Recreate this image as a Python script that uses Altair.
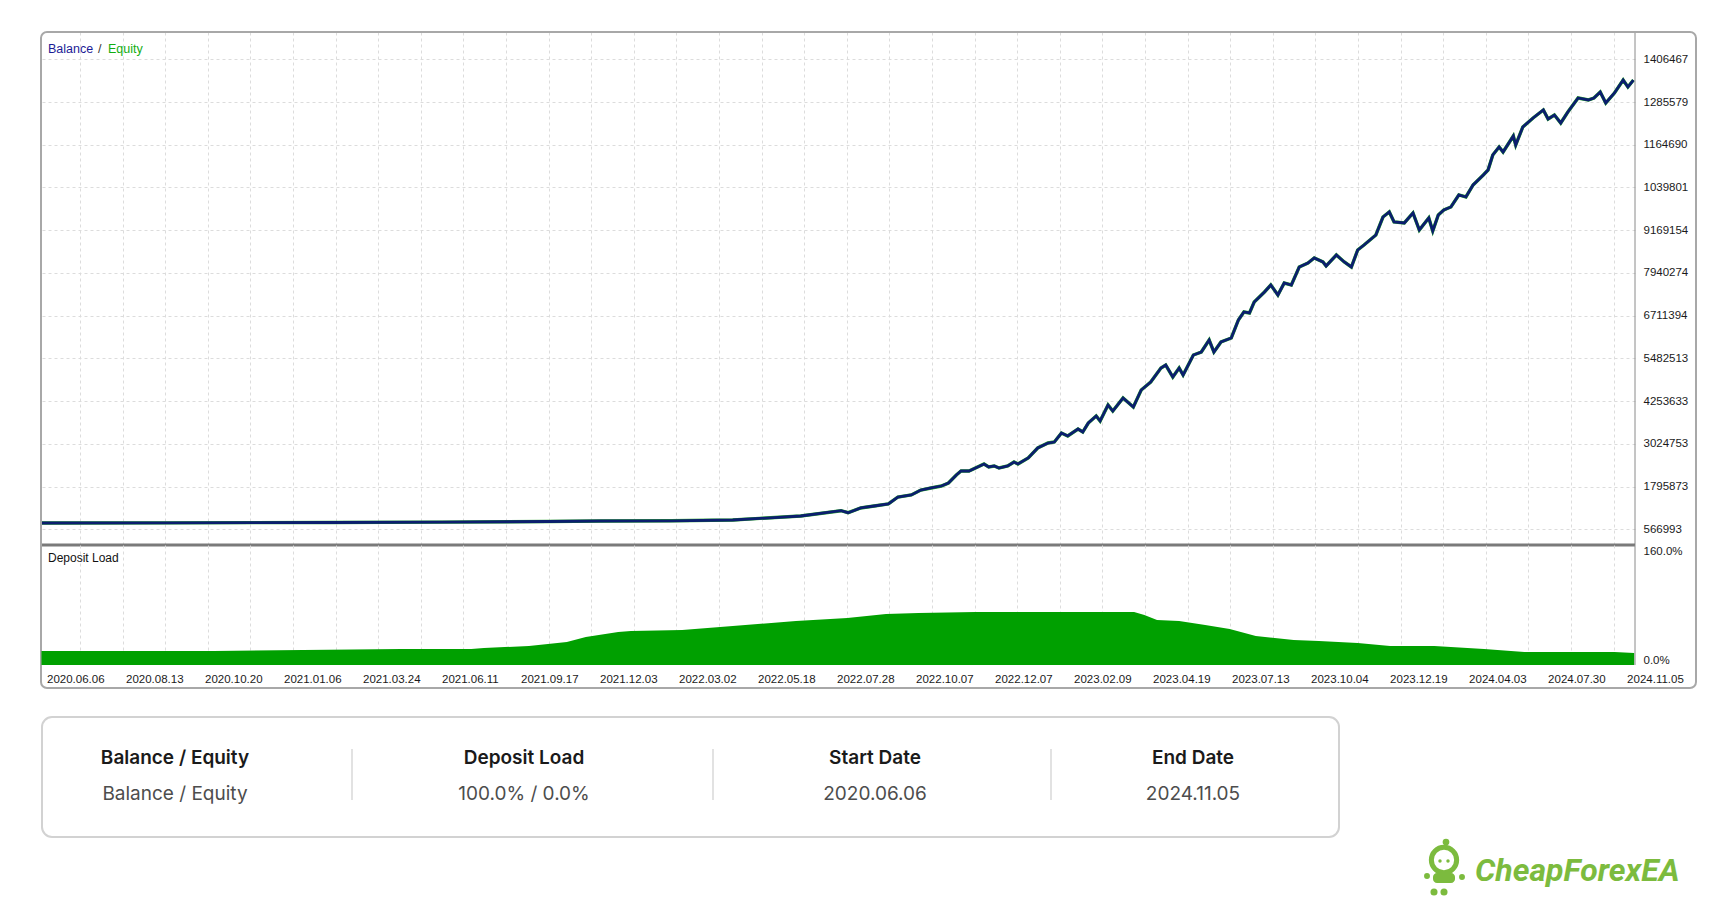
import altair as alt
import pandas as pd

# ---------------- data ----------------
dates = ["2020.06.06", "2020.08.13", "2020.10.20", "2021.01.06", "2021.03.24",
         "2021.06.11", "2021.09.17", "2021.12.03", "2022.03.02", "2022.05.18",
         "2022.07.28", "2022.10.07", "2022.12.07", "2023.02.09", "2023.04.19",
         "2023.07.13", "2023.10.04", "2023.12.19", "2024.04.03", "2024.07.30",
         "2024.11.05"]

# position along the x axis, in units of the date-label spacing (label i sits at i)
bal_t = [-0.07, 1.50, 3.59, 5.00, 6.34, 7.01, 7.90, 8.68, 9.54,
         10.05, 10.14, 10.30, 10.47, 10.65, 10.77, 10.94, 11.06, 11.19, 11.32, 11.41,
         11.51, 11.57, 11.67, 11.86, 11.92, 11.99, 12.05, 12.16, 12.24, 12.29, 12.42,
         12.54, 12.67, 12.75, 12.84, 12.92, 13.05, 13.11, 13.18, 13.28, 13.33, 13.43,
         13.49, 13.62, 13.75, 13.85,
         13.97, 14.10, 14.16, 14.25, 14.33, 14.38, 14.51, 14.61, 14.71, 14.77, 14.86,
         14.99, 15.08, 15.15, 15.22, 15.28, 15.41, 15.49, 15.58, 15.66, 15.75, 15.85,
         15.96, 16.04, 16.15, 16.19, 16.32, 16.42, 16.51, 16.59, 16.67, 16.82, 16.91,
         16.99, 17.05, 17.18, 17.29, 17.37, 17.49, 17.54, 17.61, 17.68, 17.77, 17.87,
         17.96, 18.05, 18.18, 18.24, 18.30, 18.38, 18.43, 18.56, 18.59, 18.68, 18.81,
         18.94, 19.00, 19.08, 19.16, 19.25, 19.38, 19.51, 19.58, 19.66, 19.73, 19.84,
         19.95, 20.01, 20.08]
bal_v = [748000, 752000, 763000, 772000, 791000, 806000, 812000, 834000, 950000,
         1102000, 1044000, 1180000, 1237000, 1295000, 1496000, 1554000, 1697000,
         1755000, 1812000, 1899000, 2129000, 2244000, 2244000, 2445000, 2359000,
         2388000, 2330000, 2388000, 2503000, 2445000, 2618000, 2905000, 3049000,
         3077000, 3336000, 3250000, 3451000, 3365000, 3624000, 3826000, 3682000,
         4142000, 3969000, 4343000, 4084000, 4573000,
         4803000, 5206000, 5292000, 4947000, 5206000, 5004000, 5580000,
         5666000, 6011000, 5666000, 5954000, 6069000, 6587000, 6817000, 6788000,
         7105000, 7392000, 7594000, 7306000, 7651000, 7594000, 8111000, 8226000,
         8370000, 8255000, 8140000, 8457000, 8255000, 8111000, 8600000, 8744000,
         9032000, 9549000, 9693000, 9406000, 9377000, 9665000, 9176000, 9521000,
         9147000, 9607000, 9751000, 9837000, 10183000, 10125000, 10470000, 10757000,
         10901000, 11332000, 11563000, 11419000, 11879000, 11620000, 12138000,
         12397000, 12627000, 12368000, 12483000, 12253000, 12569000, 12972000,
         12915000, 12972000, 13144000, 12828000, 13115000, 13489000, 13288000,
         13489000]
equity_v = bal_v  # equity runs on top of balance in the picture

load_t = [-0.07, 2.11, 4.48, 5.37, 5.53, 6.10, 6.58, 6.82, 7.23, 7.39, 8.04, 8.68,
          9.48, 10.13, 10.62, 11.03, 11.75, 12.87, 13.76, 13.89, 14.05, 14.33, 14.66,
          14.97, 15.30, 15.78, 16.10, 16.59, 17.00, 17.56, 18.19, 18.70, 19.84, 20.09]
load_v = [18.7, 18.7, 21.3, 21.3, 22.7, 25.3, 30.7, 37.3, 44.0, 45.3, 46.7, 52.0,
          58.7, 62.7, 68.0, 69.3, 70.7, 70.7, 70.7, 66.7, 60.0, 58.7, 53.3, 48.0,
          38.7, 33.3, 32.0, 29.3, 25.3, 25.3, 21.3, 17.3, 17.3, 16.0]

y_ticks = [566993, 1795873, 3024753, 4253633, 5482513, 6711394, 7940274, 9169154,
           10398034, 11626914, 12855794, 14084674]
y_labels = ["566993", "1795873", "3024753", "4253633", "5482513", "6711394",
            "7940274", "9169154", "1039801", "1164690", "1285579", "1406467"]
load_ticks = [0, 160]
load_labels = ["0.0%", "160.0%"]

info_headers = ["Balance / Equity", "Deposit Load", "Start Date", "End Date"]
info_values = ["Balance / Equity", "100.0% / 0.0%", "2020.06.06", "2024.11.05"]

# ---------------- layout / style ----------------
W, H1, H2 = 1594, 513, 120
XDOM = [-0.076, 20.10]
FONT = "Liberation Sans"
NAVY = "#0b1e6e"
GREEN_FILL = "#00a000"
LOGO = "#7cbb3e"
GRID = "#dcdcdc"
grid_x = [round(0.418 + 0.5392 * k, 4) for k in range(37)]

one = pd.DataFrame({"a": [0]})


def js_arr(vals):
    return "[" + ",".join("'" + v + "'" for v in vals) + "]"


xscale = alt.Scale(domain=XDOM, nice=False, zero=False)
x_grid_axis = alt.Axis(values=grid_x, grid=True, gridDash=[3, 3], gridColor=GRID,
                       gridWidth=1, labels=False, ticks=False, domain=False, title=None)

bal_df = pd.DataFrame({"t": bal_t, "v": bal_v, "e": equity_v})
load_df = pd.DataFrame({"t": load_t, "load": load_v})
date_df = pd.DataFrame({"t": list(range(len(dates))), "label": dates})

y_axis_top = alt.Axis(orient="right", values=y_ticks,
                      labelExpr=js_arr(y_labels) + "[indexof(" + str(y_ticks) + ", datum.value)]",
                      grid=True, gridDash=[3, 3], gridColor=GRID, ticks=False, tickSize=0,
                      domain=False, labelPadding=8, labelFont=FONT, labelFontSize=11.5,
                      labelColor="#1a1a1a", title=None)
yscale_top = alt.Scale(domain=[115477, 14869800], nice=False, zero=False)

equity = alt.Chart(bal_df).mark_line(color="#2aa52a", strokeWidth=3.4).encode(
    x=alt.X("t:Q", scale=xscale, axis=x_grid_axis),
    y=alt.Y("e:Q", scale=yscale_top, axis=y_axis_top),
)
balance = alt.Chart(bal_df).mark_line(color=NAVY, strokeWidth=2.8).encode(
    x=alt.X("t:Q", scale=xscale, axis=x_grid_axis),
    y=alt.Y("v:Q", scale=yscale_top, axis=y_axis_top),
)

leg1 = alt.Chart(one).mark_text(text="Balance", align="left", baseline="alphabetic",
                                font=FONT, fontSize=12.5, color="#1c1c96").encode(
    x=alt.value(7), y=alt.value(21))
leg2 = alt.Chart(one).mark_text(text="/", align="left", baseline="alphabetic",
                                font=FONT, fontSize=12.5, color="#333333").encode(
    x=alt.value(57), y=alt.value(21))
leg3 = alt.Chart(one).mark_text(text="Equity", align="left", baseline="alphabetic",
                                font=FONT, fontSize=12.5, color="#12ad12").encode(
    x=alt.value(67), y=alt.value(21))

frame = alt.Chart(one).mark_rect(filled=False, stroke="#a8a8a8", strokeWidth=2,
                                 cornerRadius=6).encode(
    x=alt.value(0), x2=alt.value(1655), y=alt.value(0), y2=alt.value(656))
right_edge_top = alt.Chart(one).mark_rule(color="#8a8a8a", strokeWidth=1).encode(
    x=alt.value(W), y=alt.value(0), y2=alt.value(H1))
separator = alt.Chart(one).mark_rule(color="#7a7a7a", strokeWidth=3).encode(
    x=alt.value(0), x2=alt.value(W), y=alt.value(H1))

top = alt.layer(equity, balance, leg1, leg2, leg3, right_edge_top, separator, frame).properties(
    width=W, height=H1)

# ---- deposit load panel ----
y_axis_bot = alt.Axis(orient="right", values=load_ticks,
                      labelExpr=js_arr(load_labels) + "[indexof(" + str(load_ticks) + ", datum.value)]",
                      grid=False, ticks=False, tickSize=0, domain=False, labelPadding=8,
                      labelFlush=True, labelFont=FONT, labelFontSize=11.5,
                      labelColor="#1a1a1a", title=None)

area = alt.Chart(load_df).mark_area(color=GREEN_FILL, opacity=1).encode(
    x=alt.X("t:Q", scale=xscale, axis=x_grid_axis),
    y=alt.Y("load:Q", scale=alt.Scale(domain=[0, 160], nice=False), axis=y_axis_bot),
)
date_labels = alt.Chart(date_df).mark_text(align="left", baseline="alphabetic", font=FONT,
                                           fontSize=11.5, color="#1a1a1a").encode(
    x=alt.X("t:Q", scale=xscale, axis=x_grid_axis),
    y=alt.value(138),
    text="label:N",
)
dep_title = alt.Chart(one).mark_text(text="Deposit Load", align="left", baseline="alphabetic",
                                     font=FONT, fontSize=12, color="#111111").encode(
    x=alt.value(7), y=alt.value(17))
right_edge_bot = alt.Chart(one).mark_rule(color="#8a8a8a", strokeWidth=1).encode(
    x=alt.value(W), y=alt.value(0), y2=alt.value(H2))

# ---- info box under the chart ----
info_df = pd.DataFrame({"head": info_headers, "val": info_values,
                        "cx": [134, 483, 834, 1152]})
div_df = pd.DataFrame({"dx": [311, 672, 1010]})

info_box = alt.Chart(one).mark_rect(filled=False, stroke="#d2d2d2", strokeWidth=2,
                                    cornerRadius=10).encode(
    x=alt.value(1), x2=alt.value(1298), y=alt.value(172), y2=alt.value(292))
dividers = alt.Chart(div_df).mark_rule(color="#cfcfcf", strokeWidth=1.2).encode(
    x=alt.X("dx:Q", scale=None), y=alt.value(204), y2=alt.value(255))
heads = alt.Chart(info_df).mark_text(align="center", baseline="alphabetic", font="Inter",
                                     fontSize=19, fontWeight=600, color="#1a1a1a").encode(
    x=alt.X("cx:Q", scale=None), y=alt.value(219), text="head:N")
vals = alt.Chart(info_df).mark_text(align="center", baseline="alphabetic", font="Inter",
                                    fontSize=19, fontWeight=400, color="#4d4d4d").encode(
    x=alt.X("cx:Q", scale=None), y=alt.value(255), text="val:N")

# ---- logo ----
logo_text = alt.Chart(one).mark_text(text="CheapForexEA", align="left", baseline="alphabetic",
                                     font="Roboto", fontSize=32, fontWeight="bold",
                                     fontStyle="italic", color=LOGO).encode(
    x=alt.value(1434), y=alt.value(336))
head_ring = alt.Chart(one).mark_point(shape="circle", filled=False, strokeWidth=5,
                                      color=LOGO, size=640, opacity=1).encode(
    x=alt.value(1403), y=alt.value(315))
antenna = alt.Chart(one).mark_point(shape="circle", filled=True, color=LOGO, size=45,
                                    opacity=1).encode(x=alt.value(1405), y=alt.value(297))
eye1 = alt.Chart(one).mark_point(shape="circle", filled=True, color=LOGO, size=12,
                                 opacity=1).encode(x=alt.value(1399), y=alt.value(316))
eye2 = alt.Chart(one).mark_point(shape="circle", filled=True, color=LOGO, size=12,
                                 opacity=1).encode(x=alt.value(1407), y=alt.value(316))
body = alt.Chart(one).mark_rect(color=LOGO, cornerRadius=4).encode(
    x=alt.value(1392), x2=alt.value(1414), y=alt.value(328), y2=alt.value(338))
arm1 = alt.Chart(one).mark_point(shape="circle", filled=True, color=LOGO, size=35,
                                 opacity=1).encode(x=alt.value(1386), y=alt.value(331))
arm2 = alt.Chart(one).mark_point(shape="circle", filled=True, color=LOGO, size=35,
                                 opacity=1).encode(x=alt.value(1421), y=alt.value(332))
foot1 = alt.Chart(one).mark_point(shape="circle", filled=True, color=LOGO, size=50,
                                  opacity=1).encode(x=alt.value(1393), y=alt.value(347))
foot2 = alt.Chart(one).mark_point(shape="circle", filled=True, color=LOGO, size=50,
                                  opacity=1).encode(x=alt.value(1403), y=alt.value(347))

bottom = alt.layer(area, date_labels, dep_title, right_edge_bot, info_box, dividers,
                   heads, vals, logo_text, head_ring, antenna, eye1, eye2, body,
                   arm1, arm2, foot1, foot2).properties(width=W, height=H2)

chart = alt.vconcat(top, bottom, spacing=0, bounds="flush").properties(
    padding={"left": 26, "top": 23, "right": 4, "bottom": 4},
    background="white",
).configure_view(stroke=None)

chart.save("out.html", embed_options={"renderer": "svg", "actions": False})
